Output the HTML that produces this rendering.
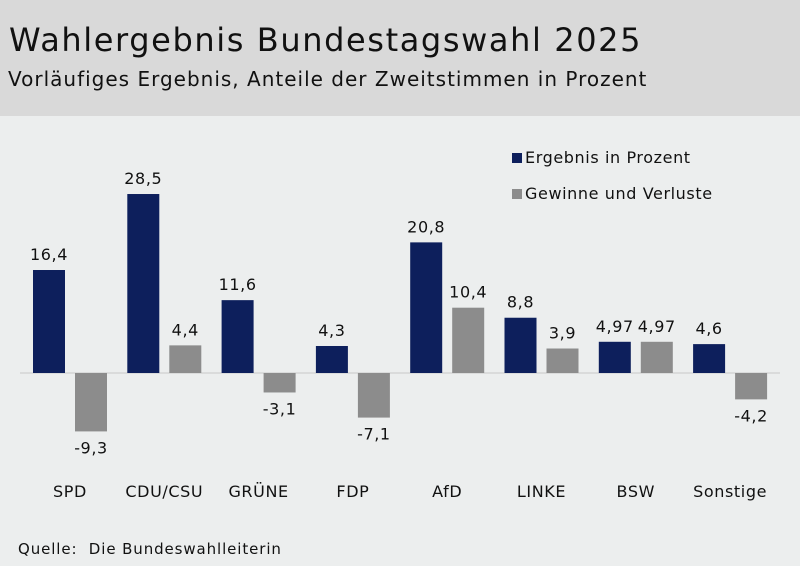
<!DOCTYPE html>
<html><head><meta charset="utf-8">
<style>
html,body{margin:0;padding:0;}
body{width:800px;height:566px;background:#eceeee;font-family:"DejaVu Sans","Liberation Sans",sans-serif;position:relative;overflow:hidden;}
#header{position:absolute;left:0;top:0;width:800px;height:116px;background:#d9d9d9;}
#title{position:absolute;left:9px;top:21px;font-size:32px;letter-spacing:1.6px;color:#111;white-space:nowrap;}
#subtitle{position:absolute;left:8px;top:67px;font-size:20px;letter-spacing:1px;color:#111;white-space:nowrap;}
svg{position:absolute;left:0;top:0;}
svg text{letter-spacing:0.6px;}
#source{position:absolute;left:18px;top:540px;font-size:15px;letter-spacing:0.9px;color:#111;}
</style></head><body>
<div id="header">
<div id="title">Wahlergebnis Bundestagswahl 2025</div>
<div id="subtitle">Vorläufiges Ergebnis, Anteile der Zweitstimmen in Prozent</div>
</div>
<svg id="chart" width="800" height="566"></svg>
<div id="source">Quelle:&nbsp; Die Bundeswahlleiterin</div>
<script>
const categories = ["SPD","CDU/CSU","GRÜNE","FDP","AfD","LINKE","BSW","Sonstige"];
const results = [16.4,28.5,11.6,4.3,20.8,8.8,4.97,4.6];
const changes = [-9.3,4.4,-3.1,-7.1,10.4,3.9,4.97,-4.2];
const resultLabels = ["16,4","28,5","11,6","4,3","20,8","8,8","4,97","4,6"];
const changeLabels = ["-9,3","4,4","-3,1","-7,1","10,4","3,9","4,97","-4,2"];

const NS="http://www.w3.org/2000/svg";
const svg=document.getElementById('chart');
const y0=373, pxPerUnit=6.28;
function y(v){return y0 - v*pxPerUnit;}
function xc(i){return 70 + i*94.3;}
function mk(tag,attrs){const e=document.createElementNS(NS,tag);for(const k in attrs)e.setAttribute(k,attrs[k]);svg.appendChild(e);return e;}
function txt(x,yy,s,anchor){const t=mk('text',{x:x,y:yy,'font-size':16,fill:'#111','text-anchor':anchor||'middle','font-family':'DejaVu Sans, Liberation Sans, sans-serif'});t.textContent=s;return t;}

const base=mk('line',{x1:20,x2:780,y1:y0,y2:y0,stroke:'#c8c8c8','stroke-width':1});



categories.forEach((c,i)=>{
  const cx=xc(i);
  const v=results[i];
  const r=mk('rect',{x:cx-37,width:32,y:Math.min(y(v),y0),height:Math.abs(y(v)-y0),fill:'#0d1f5c'});
  
  
  const rl=txt(cx-21,Math.min(y(v),y0)-10,resultLabels[i]);
  
  
  const w=changes[i];
  const g=mk('rect',{x:cx+5,width:32,y:Math.min(y(w),y0),height:Math.abs(y(w)-y0),fill:'#8c8c8c'});
  
  
  const gy = w>=0 ? y(w)-10 : y(w)+22;
  const gl=txt(cx+21,gy,changeLabels[i]);
  
  
  const cl=txt(cx,497,c);
  
  
});

const l1=mk('rect',{x:512,y:153,width:10,height:10,fill:'#0d1f5c'});


const lt1=txt(525,163,'Ergebnis in Prozent','start');


const l2=mk('rect',{x:512,y:189,width:10,height:10,fill:'#8c8c8c'});


const lt2=txt(525,199,'Gewinne und Verluste','start');


</script>
</body></html>
